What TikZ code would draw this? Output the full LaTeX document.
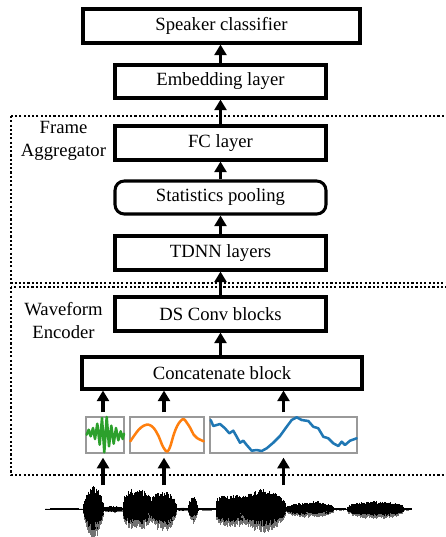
\documentclass[tikz,border=0pt]{standalone}
\usepackage{fontspec}
\setmainfont{Liberation Serif}
\usetikzlibrary{arrows.meta}
\def\pxu{0.75pt}
\definecolor{tabgreen}{HTML}{2CA02C}
\definecolor{taborange}{HTML}{FF7F0E}
\definecolor{tabblue}{HTML}{1F77B4}
\tikzset{
 blk/.style={draw, line width=2.3pt, minimum height=33*\pxu, minimum width=211*\pxu, inner sep=0pt, font=\fontsize{14}{16.8}\selectfont},
 arr/.style={line width=2.3pt, -{Triangle[width=9pt,length=8pt]}},
 grp/.style={line width=1.8pt, dash pattern=on 1.6pt off 1.6pt},
 lbl/.style={align=center, font=\fontsize{14}{16.8}\selectfont, inner sep=0pt},
 picbox/.style={draw=black!40, line width=1pt, minimum height=36*\pxu, inner sep=0pt},
 crv/.style={line width=1.9pt, line join=round, line cap=round},
 wv/.style={line width=0.6pt},
}
\newcommand\wseg[5]{%
 \pgfmathsetmacro\wsA{#1+0.45}%
 \foreach \xx in {#1,\wsA,...,#2}{%
   \pgfmathsetmacro\wsf{(abs(sin(180*(\xx-#1)/(#2-#1)))+0.001)^#5}%
   \pgfmathsetmacro\wsu{#3*\wsf*(0.6+0.4*rnd)+0.6}%
   \pgfmathsetmacro\wsd{#4*\wsf*(0.6+0.4*rnd)+0.6}%
   \draw[wv,black!55] (\xx,509.3) -- (\xx,509.3+1.1*\wsd);
   \draw[wv,black] (\xx,509.3-\wsu) -- (\xx,509.3+0.8*\wsd);
 }}
\begin{document}
\begin{tikzpicture}[x=0.75pt,y=-0.75pt]
\useasboundingbox (0,0) rectangle (446,537);
\clip (0,0) rectangle (446,537);
% main blocks
\node[blk, minimum width=277*\pxu, minimum height=34*\pxu] (spk) at (221.5,26) {Speaker classifier};
\node[blk] (emb) at (220.5,81.5) {Embedding layer};
\node[blk, minimum height=34*\pxu] (fc) at (220.5,143) {FC layer};
\node[blk, rounded corners=7pt] (stat) at (220.5,197.5) {Statistics pooling};
\node[blk, minimum height=34*\pxu] (tdnn) at (220.5,253) {TDNN layers};
\node[blk, minimum height=34*\pxu] (ds) at (220.5,314) {DS Conv blocks};
\node[blk, minimum width=280*\pxu, minimum height=32*\pxu] (cat) at (222,373) {Concatenate block};
% groups
\draw[grp] (11,116) rectangle (470,283);
\draw[grp] (11,287) rectangle (470,475);
\node[lbl] (falbl) at (63.5,141) {Frame\\Aggregator};
\node[lbl] (welbl) at (63.5,320.5) {Waveform\\Encoder};
% arrows in stack
\draw[arr] (emb.north) -- (emb.north |- spk.south);
\draw[arr] (fc.north) -- (emb.south);
\draw[arr] (stat.north) -- (fc.south);
\draw[arr] (tdnn.north) -- (stat.south);
\draw[arr] (ds.north) -- (tdnn.south);
\draw[arr] (ds.south |- cat.north) -- (ds.south);
% filter pictures
\node[picbox, minimum width=38*\pxu] (g) at (105,435) {};
\node[picbox, minimum width=74*\pxu] (o) at (167,435) {};
\node[picbox, minimum width=147*\pxu] (b) at (283.5,435) {};
\draw[crv, tabgreen] plot coordinates {(86.7,434.7) (88.7,429.7) (90.7,436.3) (93,428) (95,439) (97.3,423.7) (99.7,444.7) (102,418) (104.3,452.3) (106.7,417) (109,446.3) (111.3,425.7) (113.7,443.7) (116,428) (118.3,440.3) (120.7,431.3) (122.7,439) (124,433.7)};
\draw[crv, taborange] plot[smooth, tension=0.6] coordinates {(130.3,441.3) (133.7,436.3) (138.7,429.7) (143.7,425.7) (148.7,424.7) (153.7,428) (158.7,436.3) (162,444.7) (165.3,450.3) (167.7,451.3) (170.3,446.3) (173.7,434.7) (177,426.3) (180.3,421.3) (183.7,419) (187,423) (190.3,428) (193.7,434.7) (197,438) (203.7,441.3)};
\draw[crv, tabblue] plot coordinates {(210.7,420) (213.3,426) (220,424) (225,428.3) (229.3,433.3) (233.3,430.7) (236.7,436.7) (240,442.7) (243.3,440.7) (246.7,445) (251.7,450.7) (256.7,450) (261.7,451) (266.7,448.3) (273.3,442.7) (280,436) (286.7,426.7) (291.7,420) (296.7,417.3) (301.7,420) (308.3,421) (313.3,426.7) (318.3,428.3) (323.3,436.7) (328.3,438.3) (333.3,443.3) (338.3,446) (341.7,441.7) (345,445) (350,440.7) (356.7,438.3)};
% arrows from pictures to concatenate block
\draw[arr, shorten <=3pt] ([xshift=-1.5pt]g.north) -- ([xshift=-1.5pt]g.north |- cat.south);
\draw[arr, shorten <=3pt] ([xshift=-2.25pt]o.north) -- ([xshift=-2.25pt]o.north |- cat.south);
\draw[arr, shorten <=3pt] (b.north) -- (b.north |- cat.south);
% arrows from waveform
\coordinate (w1) at (103,485);
\coordinate (w2) at (164,485);
\coordinate (w3) at (283.5,485);
\draw[arr, shorten >=3pt] (w1) -- (w1 |- g.south);
\draw[arr, shorten >=3pt] (w2) -- (w2 |- o.south);
\draw[arr, shorten >=3pt] (w3) -- (w3 |- b.south);
% speech waveform
\pgfmathsetseed{7}
\wseg{45}{83}{0.4}{0.4}{0.5}
\wseg{83}{104}{23}{26}{0.6}
\wseg{103}{123}{2.5}{2.5}{0.3}
\wseg{123}{151}{21}{19}{0.25}
\wseg{148}{177}{18}{21}{0.5}
\wseg{177}{188}{1.2}{1.2}{0.5}
\wseg{188}{198}{12.5}{12.5}{0.6}
\wseg{198}{217}{0.6}{0.6}{0.5}
\wseg{216}{256}{14}{16}{0.12}
\wseg{240}{286}{19.5}{21}{0.45}
\wseg{286}{334}{6}{7}{0.3}
\wseg{305}{327}{8}{6}{0.5}
\wseg{333}{347}{0.6}{0.6}{0.5}
\wseg{347}{404}{7.5}{8.5}{0.35}
\wseg{400}{412}{0.6}{0.6}{0.5}
\end{tikzpicture}
\end{document}
